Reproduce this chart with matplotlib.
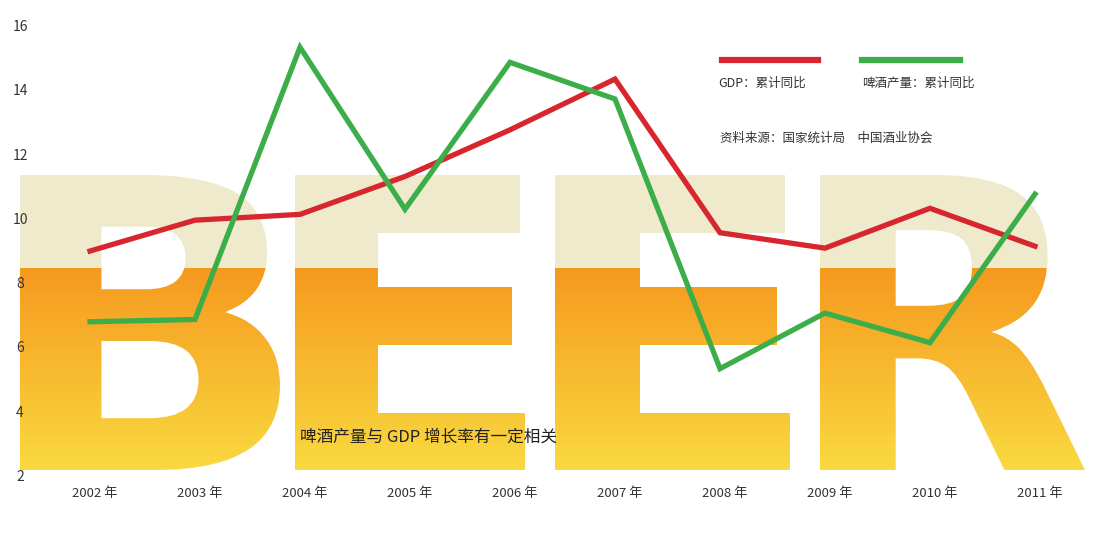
import matplotlib
matplotlib.use("Agg")
import matplotlib.pyplot as plt
import numpy as np
from matplotlib.textpath import TextPath
from matplotlib.font_manager import FontProperties
from matplotlib.patches import PathPatch
from matplotlib.transforms import Affine2D

plt.rcParams['font.family'] = ['Noto Sans CJK SC', 'DejaVu Sans']

years = [2002, 2003, 2004, 2005, 2006, 2007, 2008, 2009, 2010, 2011]
year_labels = [f"{y} 年" for y in years]
gdp = [9.03, 9.99, 10.17, 11.35, 12.8, 14.38, 9.6, 9.12, 10.36, 9.18]
beer = [6.83, 6.9, 15.37, 10.33, 14.9, 13.76, 5.37, 7.1, 6.18, 10.8]
yticks = [2, 4, 6, 8, 10, 12, 14, 16]

W, H = 1100, 550
fig = plt.figure(figsize=(11, 5.5), dpi=100)
bg = fig.add_axes([0, 0, 1, 1])
bg.set_xlim(0, W); bg.set_ylim(H, 0); bg.axis('off')

# gradient image for letters
rows = np.linspace(0, 1, 300)
img = np.zeros((300, 1, 3))
cream = np.array([0.94, 0.92, 0.80])
orange = np.array([0.96, 0.60, 0.12])
yellow = np.array([0.98, 0.85, 0.25])
for i, r in enumerate(rows):
    py = 175 + r * 300
    if py < 268:
        img[i, 0] = cream
    else:
        t = (py - 268) / 200
        img[i, 0] = orange * (1 - t) + yellow * t
img = np.clip(img, 0, 1)

fp = FontProperties(family='DejaVu Sans', weight='bold')
boxes = [('B', 20, 280), ('E', 295, 525), ('E', 555, 790), ('R', 820, 1085)]
for ch, x0, x1 in boxes:
    tp = TextPath((0, 0), ch, size=100, prop=fp)
    ext = tp.get_extents()
    sx = (x1 - x0) / ext.width
    sy = (470 - 175) / ext.height
    tr = Affine2D().translate(-ext.x0, -ext.y1).scale(sx, -sy).translate(x0, 175)
    path = tr.transform_path(tp)
    im = bg.imshow(img, extent=[x0, x1, 475, 175], aspect='auto', zorder=1)
    patch = PathPatch(path, facecolor='none', edgecolor='none', transform=bg.transData)
    bg.add_patch(patch)
    im.set_clip_path(patch)

# main chart
x0p, x1p, ytop, ybot = 90, 1035, 27, 477
ax = fig.add_axes([x0p / W, 1 - ybot / H, (x1p - x0p) / W, (ybot - ytop) / H])
ax.patch.set_alpha(0)
ax.set_xlim(years[0], years[-1]); ax.set_ylim(2, 16)
ax.axis('off')
ax.plot(years, gdp, color='#d7262e', lw=3.8, solid_joinstyle='miter', clip_on=False, zorder=3)
ax.plot(years, beer, color='#3cae49', lw=3.8, solid_joinstyle='miter', clip_on=False, zorder=4)

for v in yticks:
    bg.text(20, ybot - (v - 2) / 14 * (ybot - ytop), str(v), ha='center', va='center',
            fontsize=10, color='#333333')
for yv, lab in zip(years, year_labels):
    px = x0p + (yv - years[0]) / (years[-1] - years[0]) * (x1p - x0p) + 5
    bg.text(px, 493, lab, ha='center', va='center', fontsize=9.5, color='#333333')

bg.plot([722, 818], [60, 60], color='#d7262e', lw=4.5)
bg.plot([862, 960], [60, 60], color='#3cae49', lw=4.5)
bg.text(718, 83, "GDP：累计同比", fontsize=9, va='center', color='#333333')
bg.text(862, 83, "啤酒产量：累计同比", fontsize=9, va='center', color='#333333')
bg.text(720, 138, "资料来源：国家统计局　中国酒业协会", fontsize=9, va='center', color='#333333')
bg.text(300, 437, "啤酒产量与 GDP 增长率有一定相关", fontsize=12, va='center', color='#222222', zorder=5)

fig.savefig("out.png", dpi=100)
